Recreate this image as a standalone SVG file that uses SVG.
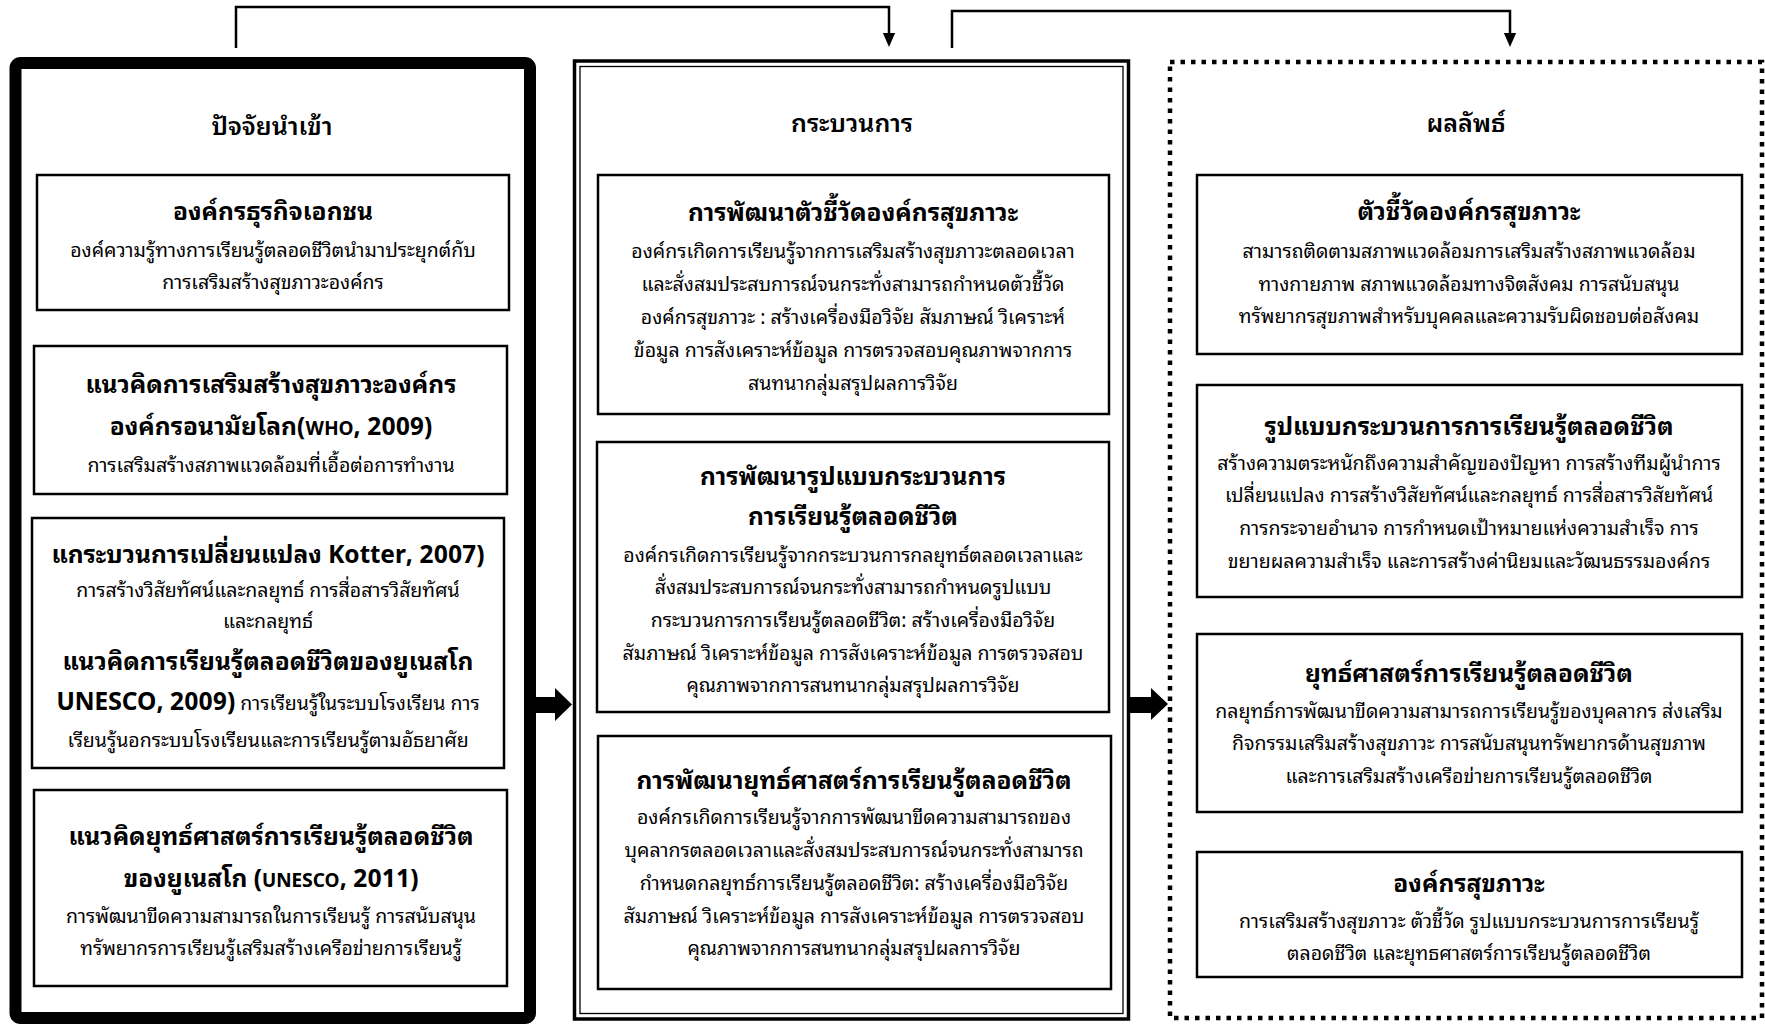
<svg xmlns="http://www.w3.org/2000/svg" width="1765" height="1024" viewBox="0 0 1765 1024">
<style>
text{font-family:"Noto Sans Thai Looped","Noto Sans Thai","Noto Serif Thai","Noto Sans",sans-serif;fill:#000;text-anchor:middle}
.h{font-size:25px;font-weight:600}
.t{font-size:24.5px;font-weight:700}
.b{font-size:19.5px;font-weight:400}
.sc{font-size:19px}
.box{fill:#fff;stroke:#000;stroke-width:2.5}
.con{fill:none;stroke:#000;stroke-width:2.5}
.blk{fill:#000;stroke:none}
</style>
<defs>
<marker id="ah" markerUnits="userSpaceOnUse" markerWidth="14" markerHeight="16" refX="0" refY="7" orient="auto" viewBox="0 0 16 14">
<path d="M0,0 L16,7 L0,14 Z" fill="#000"/>
</marker>
</defs>
<rect width="1765" height="1024" fill="#fff"/>

<g id="connectors">
<path class="con" d="M236,48 V7 H889 V33" marker-end="url(#ah)"/>
<path class="con" d="M952,48 V11 H1510 V33" marker-end="url(#ah)"/>
<polygon class="blk" points="536,697 555,697 555,688 572,704.5 555,721 555,713 536,713"/>
<polygon class="blk" points="1129,697 1151,697 1151,688 1168,704 1151,720 1151,713 1129,713"/>
</g>

<g id="input">
<rect x="15.5" y="63" width="514.5" height="955" rx="5" fill="#fff" stroke="#000" stroke-width="12"/>
<text class="h" x="272" y="135">ปัจจัยนำเข้า</text>
</g>
<g id="in1">
<rect class="box" x="37" y="175" width="472" height="135"/>
<text class="t" x="273" y="220">องค์กรธุรกิจเอกชน</text>
<text class="b" x="273" y="257">องค์ความรู้ทางการเรียนรู้ตลอดชีวิตนำมาประยุกต์กับ</text>
<text class="b" x="273" y="289">การเสริมสร้างสุขภาวะองค์กร</text>
</g>
<g id="in2">
<rect class="box" x="34" y="346" width="473" height="148"/>
<text class="t" x="271" y="393">แนวคิดการเสริมสร้างสุขภาวะองค์กร</text>
<text class="t" x="271" y="435">องค์กรอนามัยโลก(<tspan class="sc">WHO</tspan>, 2009)</text>
<text class="b" x="271" y="472">การเสริมสร้างสภาพแวดล้อมที่เอื้อต่อการทำงาน</text>
</g>
<g id="in3">
<rect class="box" x="32" y="518" width="472" height="250"/>
<text class="t" x="268" y="563">แกระบวนการเปลี่ยนแปลง Kotter, 2007)</text>
<text class="b" x="268" y="597">การสร้างวิสัยทัศน์และกลยุทธ์ การสื่อสารวิสัยทัศน์</text>
<text class="b" x="268" y="628">และกลยุทธ์</text>
<text class="t" x="268" y="670">แนวคิดการเรียนรู้ตลอดชีวิตของยูเนสโก</text>
<text class="b" x="268" y="710"><tspan class="t">UNESCO, 2009)</tspan> การเรียนรู้ในระบบโรงเรียน การ</text>
<text class="b" x="268" y="747">เรียนรู้นอกระบบโรงเรียนและการเรียนรู้ตามอัธยาศัย</text>
</g>
<g id="in4">
<rect class="box" x="34" y="790" width="473" height="196"/>
<text class="t" x="271" y="845">แนวคิดยุทธ์ศาสตร์การเรียนรู้ตลอดชีวิต</text>
<text class="t" x="271" y="887">ของยูเนสโก (<tspan class="sc">UNESCO</tspan>, 2011)</text>
<text class="b" x="271" y="923">การพัฒนาขีดความสามารถในการเรียนรู้ การสนับสนุน</text>
<text class="b" x="271" y="955">ทรัพยากรการเรียนรู้เสริมสร้างเครือข่ายการเรียนรู้</text>
</g>

<g id="process">
<rect x="574.5" y="61" width="554" height="958" fill="#fff" stroke="#000" stroke-width="3.5"/>
<rect x="580" y="66.5" width="543" height="947" fill="none" stroke="#000" stroke-width="1.3"/>
<text class="h" x="852" y="132">กระบวนการ</text>
</g>
<g id="p1">
<rect class="box" x="598" y="175" width="511" height="239"/>
<text class="t" x="853" y="221">การพัฒนาตัวชี้วัดองค์กรสุขภาวะ</text>
<text class="b" x="853" y="258">องค์กรเกิดการเรียนรู้จากการเสริมสร้างสุขภาวะตลอดเวลา</text>
<text class="b" x="853" y="291">และสั่งสมประสบการณ์จนกระทั่งสามารถกำหนดตัวชี้วัด</text>
<text class="b" x="853" y="324">องค์กรสุขภาวะ  : สร้างเครื่องมือวิจัย สัมภาษณ์ วิเคราะห์</text>
<text class="b" x="853" y="357">ข้อมูล การสังเคราะห์ข้อมูล การตรวจสอบคุณภาพจากการ</text>
<text class="b" x="853" y="390">สนทนากลุ่มสรุปผลการวิจัย</text>
</g>
<g id="p2">
<rect class="box" x="597" y="442" width="512" height="270"/>
<text class="t" x="853" y="485">การพัฒนารูปแบบกระบวนการ</text>
<text class="t" x="853" y="525">การเรียนรู้ตลอดชีวิต</text>
<text class="b" x="853" y="562">องค์กรเกิดการเรียนรู้จากกระบวนการกลยุทธ์ตลอดเวลาและ</text>
<text class="b" x="853" y="594">สั่งสมประสบการณ์จนกระทั่งสามารถกำหนดรูปแบบ</text>
<text class="b" x="853" y="627">กระบวนการการเรียนรู้ตลอดชีวิต: สร้างเครื่องมือวิจัย</text>
<text class="b" x="853" y="660">สัมภาษณ์ วิเคราะห์ข้อมูล การสังเคราะห์ข้อมูล การตรวจสอบ</text>
<text class="b" x="853" y="692">คุณภาพจากการสนทนากลุ่มสรุปผลการวิจัย</text>
</g>
<g id="p3">
<rect class="box" x="598" y="736" width="513" height="253"/>
<text class="t" x="854" y="789">การพัฒนายุทธ์ศาสตร์การเรียนรู้ตลอดชีวิต</text>
<text class="b" x="854" y="824">องค์กรเกิดการเรียนรู้จากการพัฒนาขีดความสามารถของ</text>
<text class="b" x="854" y="857">บุคลากรตลอดเวลาและสั่งสมประสบการณ์จนกระทั่งสามารถ</text>
<text class="b" x="854" y="890">กำหนดกลยุทธ์การเรียนรู้ตลอดชีวิต: สร้างเครื่องมือวิจัย</text>
<text class="b" x="854" y="923">สัมภาษณ์ วิเคราะห์ข้อมูล การสังเคราะห์ข้อมูล การตรวจสอบ</text>
<text class="b" x="854" y="955">คุณภาพจากการสนทนากลุ่มสรุปผลการวิจัย</text>
</g>

<g id="output">
<rect x="1170" y="62" width="592" height="956" fill="#fff" stroke="#000" stroke-width="4.5" stroke-dasharray="4.5 6"/>
<text class="h" x="1466" y="132">ผลลัพธ์</text>
</g>
<g id="o1">
<rect class="box" x="1197" y="175" width="545" height="179"/>
<text class="t" x="1469" y="220">ตัวชี้วัดองค์กรสุขภาวะ</text>
<text class="b" x="1469" y="258">สามารถติดตามสภาพแวดล้อมการเสริมสร้างสภาพแวดล้อม</text>
<text class="b" x="1469" y="291">ทางกายภาพ สภาพแวดล้อมทางจิตสังคม การสนับสนุน</text>
<text class="b" x="1469" y="323">ทรัพยากรสุขภาพสำหรับบุคคลและความรับผิดชอบต่อสังคม</text>
</g>
<g id="o2">
<rect class="box" x="1197" y="385" width="545" height="212"/>
<text class="t" x="1469" y="435">รูปแบบกระบวนการการเรียนรู้ตลอดชีวิต</text>
<text class="b" x="1469" y="470">สร้างความตระหนักถึงความสำคัญของปัญหา การสร้างทีมผู้นำการ</text>
<text class="b" x="1469" y="502">เปลี่ยนแปลง การสร้างวิสัยทัศน์และกลยุทธ์ การสื่อสารวิสัยทัศน์</text>
<text class="b" x="1469" y="535">การกระจายอำนาจ การกำหนดเป้าหมายแห่งความสำเร็จ การ</text>
<text class="b" x="1469" y="568">ขยายผลความสำเร็จ และการสร้างค่านิยมและวัฒนธรรมองค์กร</text>
</g>
<g id="o3">
<rect class="box" x="1197" y="634" width="545" height="178"/>
<text class="t" x="1469" y="682">ยุทธ์ศาสตร์การเรียนรู้ตลอดชีวิต</text>
<text class="b" x="1469" y="718">กลยุทธ์การพัฒนาขีดความสามารถการเรียนรู้ของบุคลากร ส่งเสริม</text>
<text class="b" x="1469" y="750">กิจกรรมเสริมสร้างสุขภาวะ การสนับสนุนทรัพยากรด้านสุขภาพ</text>
<text class="b" x="1469" y="783">และการเสริมสร้างเครือข่ายการเรียนรู้ตลอดชีวิต</text>
</g>
<g id="o4">
<rect class="box" x="1197" y="852" width="545" height="125"/>
<text class="t" x="1469" y="892">องค์กรสุขภาวะ</text>
<text class="b" x="1469" y="928">การเสริมสร้างสุขภาวะ ตัวชี้วัด รูปแบบกระบวนการการเรียนรู้</text>
<text class="b" x="1469" y="960">ตลอดชีวิต และยุทธศาสตร์การเรียนรู้ตลอดชีวิต</text>
</g>
</svg>
